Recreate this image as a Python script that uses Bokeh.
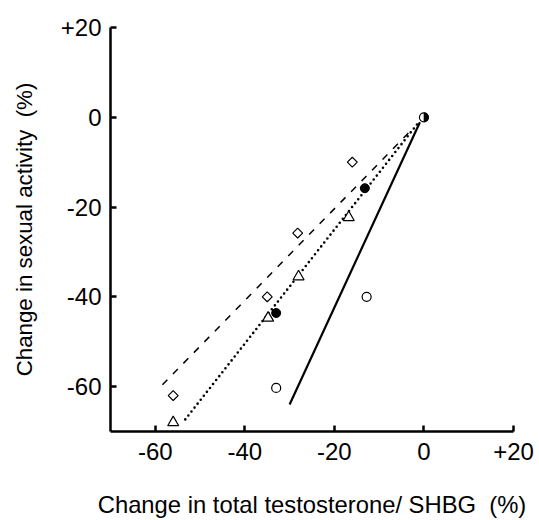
import numpy as np
from bokeh.plotting import figure
from bokeh.models import Range1d, FixedTicker
from bokeh.embed import file_html
from bokeh.resources import INLINE

# ---- data ----
open_circle_x = [-33, -12.8]
open_circle_y = [-60.3, -40]

filled_circle_x = [-13.2, -33]
filled_circle_y = [-15.8, -43.6]

triangle_x = [-16.8, -28, -34.8, -56]
triangle_y = [-22.3, -35.5, -44.7, -68]

diamond_x = [-16, -28.2, -35, -56]
diamond_y = [-10, -25.8, -40, -62]

origin_x = [0]
origin_y = [0]

solid_line_x = [-30, -0.9]
solid_line_y = [-64, -1.1]
dotted_line_x = [-53.3, -1.4]
dotted_line_y = [-67.3, -1.4]
dashed_line_x = [-58.4, -2.2]
dashed_line_y = [-59.6, -2.2]

x_ticks = [-60, -40, -20, 0, 20]
x_tick_labels = ["-60", "-40", "-20", "0", "+20"]
y_ticks = [-60, -40, -20, 0, 20]
y_tick_labels = ["-60", "-40", "-20", "0", "+20"]

FONT = "Liberation Sans"

p = figure(width=539, height=520, output_backend="svg", toolbar_location=None,
           x_range=Range1d(-70, 20), y_range=Range1d(-70, 20),
           min_border_left=110, min_border_right=26, min_border_top=27,
           min_border_bottom=88)
p.outline_line_color = None
p.xgrid.visible = False
p.ygrid.visible = False
p.background_fill_color = "white"
p.border_fill_color = "white"

for ax, ticks, labels in ((p.xaxis[0], x_ticks, x_tick_labels),
                          (p.yaxis[0], y_ticks, y_tick_labels)):
    ax.ticker = FixedTicker(ticks=ticks)
    ax.major_label_overrides = dict(zip(ticks, labels))
    ax.major_tick_in = 6
    ax.major_tick_out = 0
    ax.minor_tick_line_color = None
    ax.axis_line_width = 2.5
    ax.major_tick_line_width = 2.5
    ax.axis_line_color = "black"
    ax.major_tick_line_color = "black"
    ax.major_label_text_font = FONT
    ax.major_label_text_font_size = "24px"
    ax.major_label_text_color = "black"
    ax.axis_label_text_font = FONT
    ax.axis_label_text_font_style = "normal"
    ax.axis_label_text_color = "black"

p.xaxis[0].axis_label = "Change in total testosterone/ SHBG \u00a0(%)"
p.xaxis[0].axis_label_text_font_size = "23.8px"
p.xaxis[0].major_label_standoff = 11
p.xaxis[0].axis_label_standoff = 28

p.yaxis[0].axis_label = "Change in sexual activity \u00a0(%)"
p.yaxis[0].axis_label_text_font_size = "22.3px"
p.yaxis[0].major_label_standoff = 9
p.yaxis[0].axis_label_standoff = 21

# regression lines
p.line(solid_line_x, solid_line_y, line_color="black", line_width=2.2)
p.line(dotted_line_x, dotted_line_y, line_color="black", line_width=2.6,
       line_dash="0 5", line_cap="round")
p.line(dashed_line_x, dashed_line_y, line_color="black", line_width=1.5,
       line_dash="7 8")

# markers
p.scatter(open_circle_x, open_circle_y, marker="circle", size=9,
          fill_color="white", line_color="black", line_width=1.2)
p.scatter(filled_circle_x, filled_circle_y, marker="circle", size=9,
          fill_color="black", line_color="black")
p.scatter(triangle_x, triangle_y, marker="triangle", size=11,
          fill_color="white", line_color="black", line_width=1.2)
p.scatter(diamond_x, diamond_y, marker="square", angle=np.pi / 4, size=7,
          fill_color="white", line_color="black", line_width=1.2)

# half-filled circle at the origin (left white, right black)
p.scatter(origin_x, origin_y, marker="circle", size=9,
          fill_color="white", line_color="black", line_width=1.2)
p.wedge(origin_x, origin_y, radius=4.5, radius_units="screen",
        start_angle=-np.pi / 2, end_angle=np.pi / 2,
        fill_color="black", line_color="black", line_width=0.5)

open("out.html", "w").write(file_html(p, INLINE))
